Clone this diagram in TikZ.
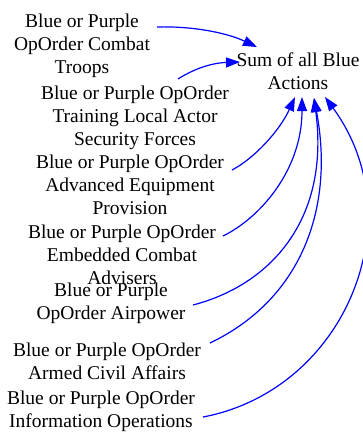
\documentclass[tikz,border=0pt]{standalone}
\usepackage{fontspec}
\setmainfont{Liberation Serif}
\usetikzlibrary{arrows.meta}

\begin{document}
\begin{tikzpicture}[x=1pt,y=-1pt,
  lab/.style={font=\fontsize{19.5}{23}\selectfont,align=center,inner sep=0pt,anchor=center},
  link/.style={blue,line width=1.2pt,-{Triangle[length=14pt,width=10pt]}}]

\useasboundingbox (0,0) rectangle (363,432);

\node[lab] (sum) at (298,71.5) {Sum of all Blue\\Actions};

\node[lab] (P1) at (82,45.5) {Blue or Purple\\OpOrder Combat\\Troops};
\node[lab] (P2) at (135,117.5) {Blue or Purple OpOrder\\Training Local Actor\\Security Forces};
\node[lab] (P3) at (130,184.5) {Blue or Purple OpOrder\\Advanced Equipment\\Provision};
\node[lab] (P4) at (122,255) {Blue or Purple OpOrder\\Embedded Combat\\Advisers};
\node[lab] (P5) at (111,303.5) {Blue or Purple\\OpOrder Airpower};
\node[lab] (P6) at (107,361.5) {Blue or Purple OpOrder\\Armed Civil Affairs};
\node[lab] (P7) at (101,411) {Blue or Purple OpOrder\\Information Operations};

% top two come in from the left
\draw[link] ([shift={(75,-18.5)}]P1.center) .. controls +(33,-1) and +(-32,-15) .. ([shift={(-41,-24.5)}]sum.center);
\draw[link] ([shift={(43,-38.5)}]P2.center) .. controls +(14,-9) and +(-30,1) .. ([shift={(-58,-9.5)}]sum.center);
% the rest come up from below
\draw[link] ([shift={(102,-14.5)}]P3.center) .. controls +(23,-12) and +(-15,33) .. ([shift={(-3,25.5)}]sum.center);
\draw[link] ([shift={(101,-19)}]P4.center) .. controls +(37,-18) and +(0,73) .. ([shift={(4,25.5)}]sum.center);
\draw[link] ([shift={(82,1.5)}]P5.center) .. controls +(77,-20) and +(16,122) .. ([shift={(16,26.5)}]sum.center);
\draw[link] ([shift={(103,-18.5)}]P6.center) .. controls +(90,-43) and +(21,112) .. ([shift={(16,26.5)}]sum.center);
\draw[link] ([shift={(102,6)}]P7.center) .. controls +(142,-27) and +(90,123) .. ([shift={(27,25.5)}]sum.center);
\end{tikzpicture}
\end{document}
